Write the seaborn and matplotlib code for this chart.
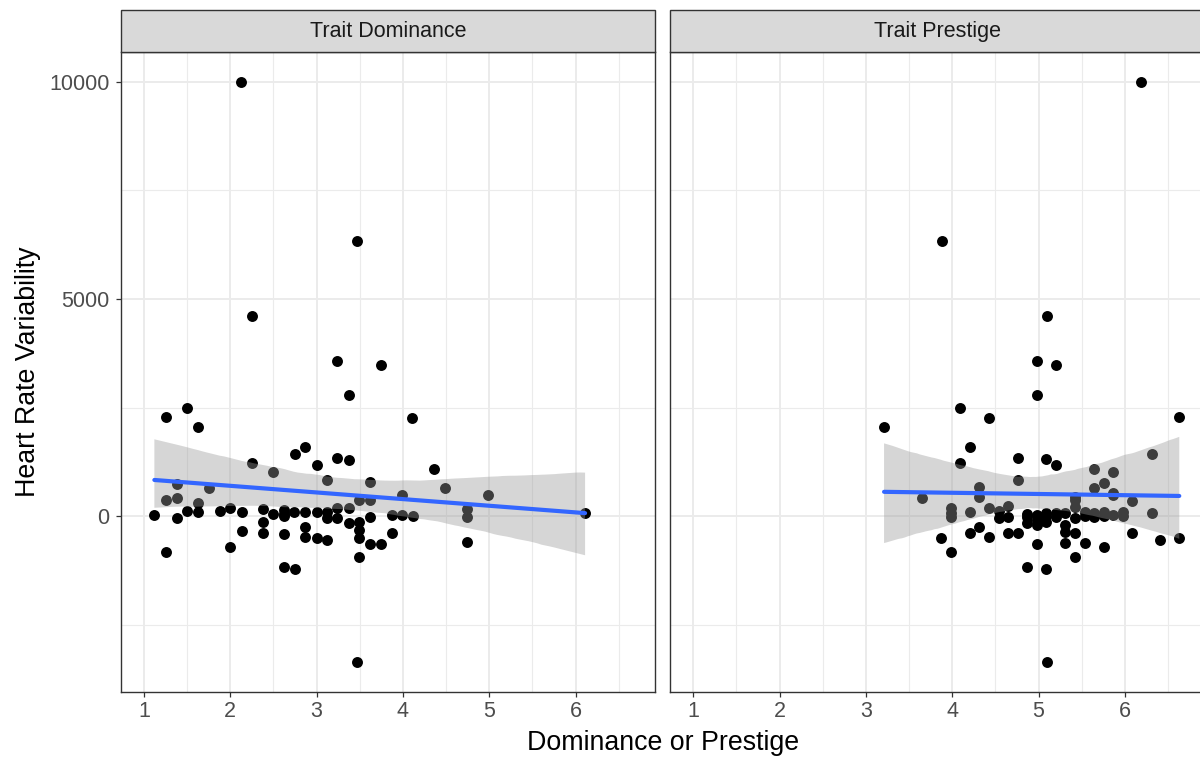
import matplotlib
matplotlib.use("Agg")
import matplotlib.pyplot as plt
from matplotlib.patches import Rectangle
from matplotlib.collections import PolyCollection
from matplotlib.ticker import MultipleLocator
import pandas as pd
import seaborn as sns

# Facet labels
facet_labels = ["Trait Dominance", "Trait Prestige"]

# Trait dominance scores and heart rate variability
dominance_x = [2.12, 3.47, 2.25, 3.24, 3.74, 3.37, 1.26, 1.50, 1.62, 4.11, 3.47,
               2.25, 2.50, 2.75, 2.87, 3.00, 3.12, 3.24, 3.37, 3.62, 4.36, 4.49, 4.99, 3.99, 1.38, 1.75,
               1.26, 1.38, 1.62, 1.50, 1.62, 1.12, 1.38, 1.88, 2.00, 2.13,
               2.38, 2.50, 2.62, 2.62, 2.62, 2.74, 2.87, 3.00, 3.12, 3.12,
               3.24, 3.24, 3.37, 3.37, 3.49, 3.49, 3.62, 3.62, 3.87, 3.99,
               4.12, 4.74, 4.74, 6.11,
               2.38, 2.38, 2.13, 2.62, 2.00, 1.26, 2.62, 2.75, 2.87, 2.87,
               3.00, 3.12, 3.49, 3.49, 3.49, 3.62, 3.74, 3.87, 4.74]
dominance_hrv = [10000, 6330, 4600, 3560, 3480, 2790, 2270, 2500, 2060, 2250, -3360,
                 1230, 1010, 1440, 1600, 1170, 830, 1330, 1300, 780, 1080, 640, 480, 480, 740, 640,
                 370, 420, 300, 110, 100, 20, -50, 110, 190, 100,
                 160, 50, 50, 140, 0, 100, 100, 100, 100, -50,
                 -50, 180, 180, -170, -130, 370, 370, -30, 20, 20,
                 0, 150, -20, 60,
                 -130, -400, -340, -410, -710, -820, -1180, -1230, -250, -490,
                 -510, -550, -320, -510, -940, -645, -645, -400, -610]

# Trait prestige scores and heart rate variability
prestige_x = [6.19, 3.88, 5.10, 4.98, 5.20, 4.98, 4.09, 4.43, 6.63, 3.21, 5.10,
              4.21, 6.31, 4.09, 4.76, 5.09, 5.20, 5.64, 5.86, 4.76, 5.76, 5.64, 4.31, 5.86,
              3.65, 4.31, 5.42, 5.86, 6.08, 3.99, 3.99, 3.99, 4.21, 4.43,
              4.54, 4.65, 4.54, 4.87, 4.87, 4.98, 4.98, 5.09, 5.09, 5.09,
              5.20, 5.20, 5.42, 5.42, 5.42, 5.54, 5.64, 5.64, 5.76, 5.86,
              5.98, 5.98, 6.31, 5.31, 5.54, 5.76, 4.65,
              6.08, 6.41, 6.63, 3.87, 3.99, 4.21, 4.31, 4.43, 4.65, 4.76,
              4.87, 4.98, 4.98, 4.87, 5.09, 5.31, 5.31, 5.31, 5.42, 5.42,
              5.54, 5.76]
prestige_hrv = [10000, 6330, 4600, 3560, 3480, 2790, 2500, 2250, 2270, 2060, -3360,
                1580, 1440, 1230, 1330, 1310, 1170, 1080, 1020, 840, 760, 650, 660, 520,
                410, 445, 445, 480, 350, 180, -15, 60, 99, 177,
                122, 230, -53, 46, -15, 23, -100, 62, -131, 0,
                62, -30, 214, -53, 369, 99, 62, -30, 99, 23,
                99, 0, 76, 60, 0, 0, -20,
                -390, -560, -514, -514, -822, -384, -246, -491, -399, -384,
                -168, -207, -645, -1183, -1229, -207, -361, -629, -399, -952,
                -614, -707]

x_ticks = [1, 2, 3, 4, 5, 6]
y_ticks = [0, 5000, 10000]
y_tick_labels = ["0", "5000", "10000"]

sns.set_style("white")
plt.rcParams["font.family"] = ["Liberation Sans", "DejaVu Sans"]

df = pd.DataFrame({
    "score": dominance_x + prestige_x,
    "hrv": dominance_hrv + prestige_hrv,
    "trait": [facet_labels[0]] * len(dominance_x) + [facet_labels[1]] * len(prestige_x),
})

g = sns.lmplot(
    data=df, x="score", y="hrv", col="trait", col_order=facet_labels,
    height=6, aspect=1.0, ci=95, n_boot=1000, seed=3, truncate=True,
    scatter_kws=dict(s=62, color="black", alpha=1, linewidths=0),
    line_kws=dict(color="#3366FF", lw=3.0),
    facet_kws=dict(sharex=True, sharey=True, despine=False),
)

fig = g.figure
fig.set_size_inches(12, 7.65)
W, H = 1200, 765

panel_top, panel_bottom = 52, 691.7
panel_w = 534.3
lefts = [120.7, 670.0]
strip_h_px = 42
tick_col = "#4D4D4D"
border_col = "#333333"

for i, (ax, label) in enumerate(zip(g.axes.flat, facet_labels)):
    ax.set_position([lefts[i] / W, (H - panel_bottom) / H, panel_w / W,
                     (panel_bottom - panel_top) / H])
    ax.set_title("")
    ax.set_xlabel("")
    ax.set_ylabel("")
    ax.set_xlim(0.73, 6.92)
    ax.set_ylim(-4048, 10691)

    # grey confidence ribbon drawn above the points
    for coll in ax.collections:
        if isinstance(coll, PolyCollection):
            coll.set_facecolor("#999999")
            coll.set_alpha(0.4)
            coll.set_edgecolor("none")
            coll.set_zorder(2.5)
    for ln in ax.lines:
        ln.set_zorder(3)

    ax.set_xticks(x_ticks)
    ax.set_xticklabels([str(t) for t in x_ticks])
    ax.set_yticks(y_ticks)
    ax.set_yticklabels(y_tick_labels)
    ax.xaxis.set_minor_locator(MultipleLocator(0.5))
    ax.yaxis.set_minor_locator(MultipleLocator(2500))
    ax.grid(which="major", color="#EBEBEB", lw=1.4)
    ax.grid(which="minor", color="#EBEBEB", lw=0.8)
    ax.set_axisbelow(True)

    ax.tick_params(which="major", direction="out", length=3.6, width=0.9,
                   color=border_col, labelsize=15.5, labelcolor=tick_col)
    ax.tick_params(which="minor", length=0)
    ax.tick_params(axis="x", bottom=True, labelbottom=True, pad=3)
    if i == 0:
        ax.tick_params(axis="y", left=True, labelleft=True, pad=4.5)
    else:
        ax.tick_params(axis="y", left=False, labelleft=False)

    for sp in ax.spines.values():
        sp.set_visible(True)
        sp.set_color(border_col)
        sp.set_linewidth(1.0)

    # facet strip
    sh = strip_h_px / (panel_bottom - panel_top)
    ax.add_patch(Rectangle((0, 1), 1, sh, transform=ax.transAxes,
                           facecolor="#D9D9D9", edgecolor=border_col,
                           lw=1.0, clip_on=False, zorder=5))
    ax.text(0.5, 1 + sh / 2, label, transform=ax.transAxes, ha="center",
            va="center", fontsize=15.5, color="#1A1A1A", zorder=6)

fig.text(663 / W, 1 - 743 / H, "Dominance or Prestige", ha="center",
         va="center", fontsize=19.3, color="black")
fig.text(28 / W, 1 - 372 / H, "Heart Rate Variability", ha="center",
         va="center", rotation=90, fontsize=19.3, color="black")

fig.savefig("out.png", dpi=100)
